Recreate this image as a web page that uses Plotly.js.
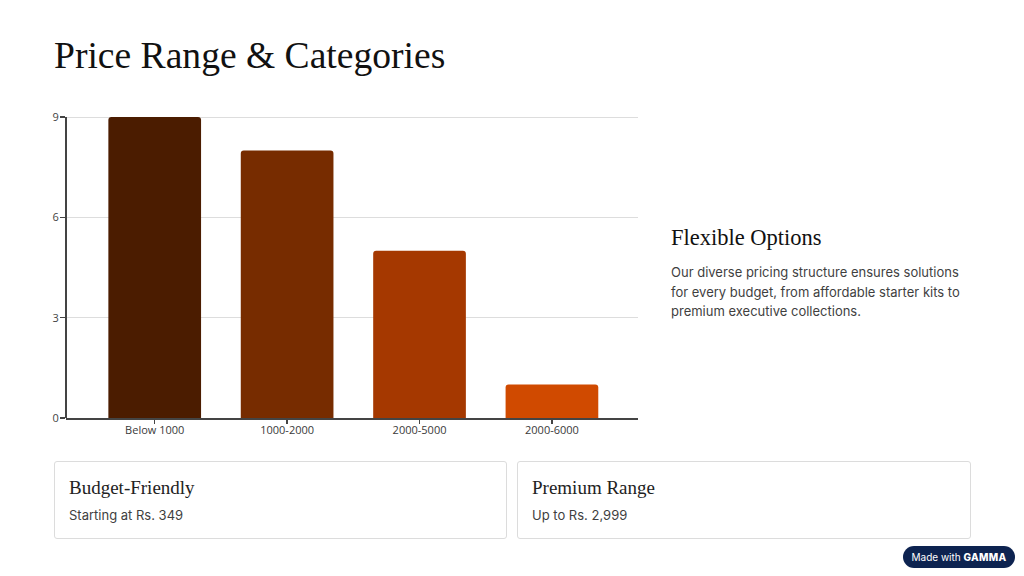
<!DOCTYPE html>
<html><head><meta charset="utf-8">
<script src="https://cdn.plot.ly/plotly-3.0.1.min.js"></script>
<style>
html,body{margin:0;padding:0;background:#fff;width:1024px;height:576px;overflow:hidden;position:relative;}
.serif{font-family:"Liberation Serif","DejaVu Serif",serif;color:#111;}
.sans{font-family:"Inter","Noto Sans",sans-serif;color:#3f3f3f;}
#title{position:absolute;left:54px;top:34px;font-size:37.6px;line-height:44px;white-space:nowrap;}
#chart{position:absolute;left:20px;top:100px;width:620px;height:350px;}
#side h3{position:absolute;left:671px;top:225px;margin:0;font-weight:normal;font-size:22.5px;line-height:26px;}
#side p{position:absolute;left:671px;top:263px;margin:0;width:300px;font-size:13px;line-height:19.5px;}
.card{position:absolute;top:461px;height:78px;border:1.5px solid #dcdcdc;border-radius:3px;box-sizing:border-box;}
.card .h{position:absolute;left:14px;top:15px;font-size:19px;line-height:22px;white-space:nowrap;color:#222;}
.card .s{position:absolute;left:14px;top:44px;font-size:13px;line-height:18px;white-space:nowrap;}
#badge{position:absolute;left:903px;top:546px;width:112px;height:22px;border-radius:11px;background:#0d2350;color:#fff;font-family:"Inter","Noto Sans",sans-serif;font-size:10px;line-height:22px;text-align:center;}
#badge b{font-weight:800;letter-spacing:0.3px;}
</style></head>
<body>
<div id="title" class="serif">Price Range &amp; Categories</div>
<div id="chart"></div>
<div id="side">
<h3 class="serif">Flexible Options</h3>
<p class="sans">Our diverse pricing structure ensures solutions for every budget, from affordable starter kits to premium executive collections.</p>
</div>
<div class="card" style="left:54px;width:453px;"><div class="h serif">Budget-Friendly</div><div class="s sans">Starting at Rs. 349</div></div>
<div class="card" style="left:517px;width:454px;"><div class="h serif">Premium Range</div><div class="s sans">Up to Rs. 2,999</div></div>
<div id="badge">Made with <b>GAMMA</b></div>
<script>
const categories = ["Below 1000", "1000-2000", "2000-5000", "2000-6000"];
const counts = [9, 8, 5, 1];
const barColors = ["#4b1c00", "#772c00", "#a53800", "#d04a00"];
const yTicks = [0, 3, 6, 9];

Plotly.newPlot("chart", [{
  type: "bar",
  x: categories,
  y: counts,
  marker: {color: barColors, line: {width: 0}},
  width: 0.7,
  hoverinfo: "x+y"
}], {
  width: 620, height: 350,
  margin: {l: 46, r: 2, t: 12, b: 32},
  paper_bgcolor: "#fff", plot_bgcolor: "#fff",
  barcornerradius: 3,
  showlegend: false,
  font: {family: "Open Sans, sans-serif", size: 11, color: "#444"},
  xaxis: {
    range: [-0.67, 3.65], showgrid: false, showline: true, linecolor: "#444", linewidth: 2,
    ticks: "outside", ticklen: 4, tickwidth: 1.5, tickcolor: "#444", ticklabelstandoff: -3,
    tickfont: {size: 11, color: "#3a3a3a"}, fixedrange: true
  },
  yaxis: {
    range: [0, 9.15], tickvals: yTicks, ticktext: yTicks.map(String),
    showgrid: true, gridcolor: "#dddddd", gridwidth: 1, zeroline: false,
    showline: false,
    ticks: "outside", ticklen: 5, tickwidth: 1.5, tickcolor: "#444", ticklabelstandoff: -1,
    tickfont: {size: 11, color: "#444"}, fixedrange: true
  },
  shapes: [{
    type: "line", xref: "paper", yref: "y", x0: 0, x1: 0, y0: 0, y1: yTicks[yTicks.length - 1],
    line: {color: "#444", width: 2}
  }]
}, {displayModeBar: false, staticPlot: true});
</script>
</body></html>
